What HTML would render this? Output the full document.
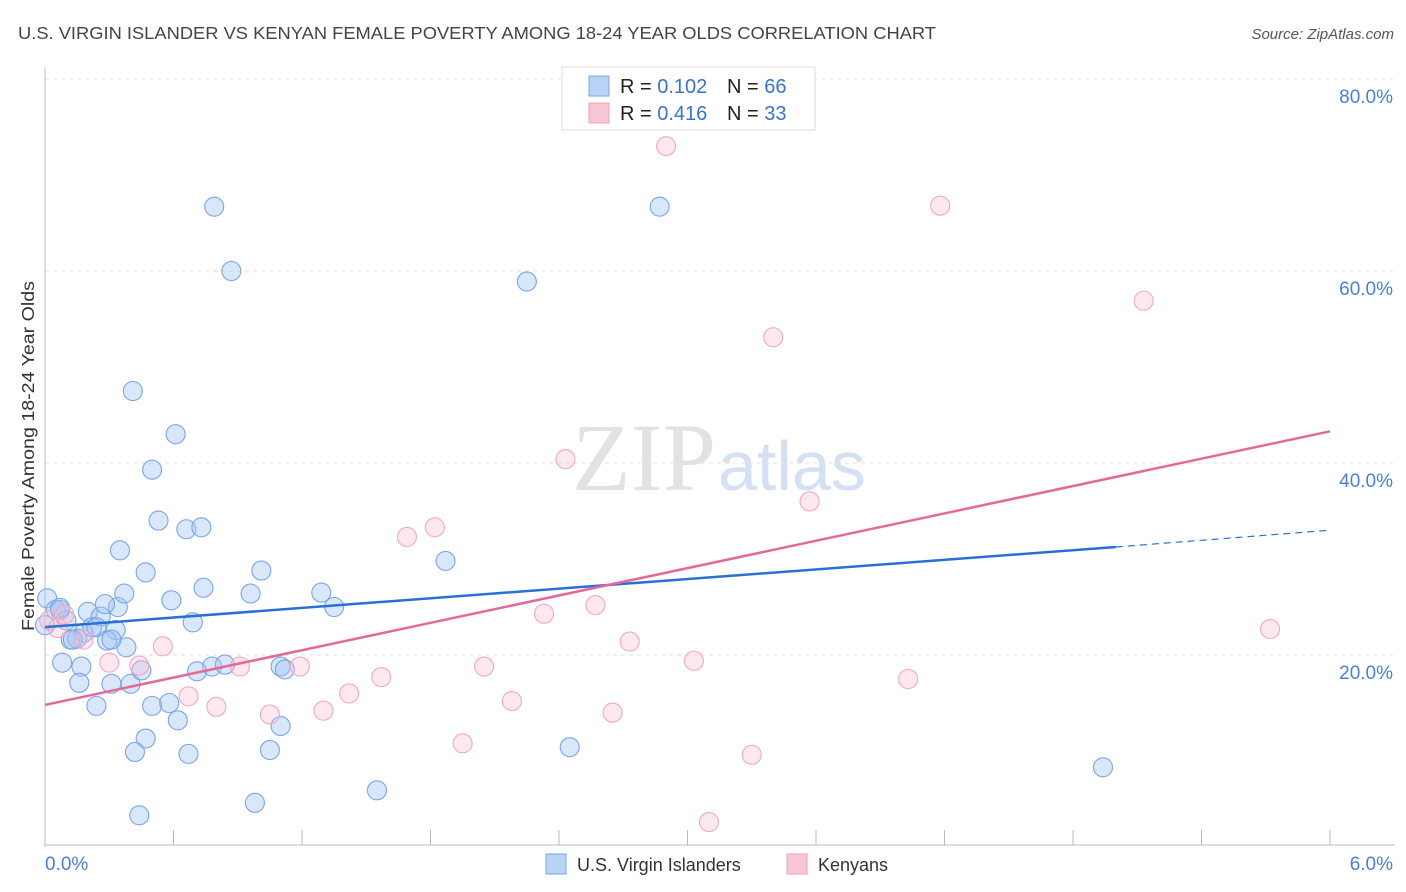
<!DOCTYPE html>
<html><head><meta charset="utf-8"><style>
body{margin:0;background:#fff;font-family:"Liberation Sans",sans-serif;}
svg{display:block}
</style></head><body>
<svg id="chart" width="1406" height="892" viewBox="0 0 1406 892" xmlns="http://www.w3.org/2000/svg">
<text x="18" y="39" font-size="17.5" fill="#444" font-family="Liberation Sans" textLength="918" lengthAdjust="spacingAndGlyphs">U.S. VIRGIN ISLANDER VS KENYAN FEMALE POVERTY AMONG 18-24 YEAR OLDS CORRELATION CHART</text>
<text x="1394" y="39" font-size="15" fill="#555" font-style="italic" text-anchor="end">Source: ZipAtlas.com</text>
<text x="716" y="490" font-size="96" fill="#e2e2e2" text-anchor="end" font-family="Liberation Serif">ZIP</text>
<text x="718" y="490" font-size="70" fill="#d4e1f3">atlas</text>
<g id="grid"></g>
<g id="axes"></g>
<g id="points"></g>
<g id="lines"></g>
<text transform="translate(34,456) rotate(-90)" font-size="17.5" fill="#333" text-anchor="middle" textLength="350" lengthAdjust="spacingAndGlyphs">Female Poverty Among 18-24 Year Olds</text>
<g>
<rect x="562" y="67" width="253" height="63" fill="#fff" stroke="#ddd"/>
<rect x="589" y="76" width="20" height="20" fill="#b9d3f5" stroke="#7aa7e6"/>
<rect x="589" y="103" width="20" height="20" fill="#f9c6d5" stroke="#f0a0b8"/>
<text x="620" y="93" font-size="20" fill="#222">R = <tspan fill="#3a72d0">0.102</tspan></text>
<text x="727" y="93" font-size="20" fill="#222">N = <tspan fill="#3a72d0">66</tspan></text>
<text x="620" y="120" font-size="20" fill="#222">R = <tspan fill="#3a72d0">0.416</tspan></text>
<text x="727" y="120" font-size="20" fill="#222">N = <tspan fill="#3a72d0">33</tspan></text>
</g>
<g>
<rect x="546" y="854" width="20" height="20" fill="#b9d3f5" stroke="#7aa7e6"/>
<text x="577" y="871" font-size="18" fill="#333">U.S. Virgin Islanders</text>
<rect x="787" y="854" width="20" height="20" fill="#f9c6d5" stroke="#f0a0b8"/>
<text x="818" y="871" font-size="18" fill="#333">Kenyans</text>
</g>
</svg>
<script>
const blueX=[.01,.05,.07,.10,.20,.26,.34,.28,.33,.18,.12,.15,.13,.22,.24,.29,.38,.08,.17,.16,.31,.40,.24,.45,.50,.62,.47,.42,.67,.44,.98,1.05,1.10,1.10,1.12,.78,.84,.71,.69,.59,.74,.96,1.01,.47,.37,.35,.66,.73,.53,.50,.61,.41,.79,.87,2.25,2.87,1.87,1.29,1.35,1.55,2.45,4.94,.58,.00,.07,.31];
const blueY=[25.9,24.7,24.7,23.6,24.5,24.0,25.0,25.3,22.6,22.3,21.6,21.7,21.6,22.9,22.9,21.5,20.8,19.2,18.8,17.1,17.0,17.0,14.7,18.4,14.7,13.2,11.3,9.9,9.7,3.3,4.6,10.1,12.6,18.8,18.5,18.8,19.0,18.3,23.4,25.7,27.0,26.4,28.8,28.6,26.4,30.9,33.1,33.3,34.0,39.3,43.0,47.5,66.7,60.0,58.9,66.7,29.8,26.5,25.0,5.9,10.4,8.3,15.0,23.1,24.9,21.6];
const pinkX=[.02,.06,.09,.18,.30,.44,.55,.67,.80,.91,1.05,1.19,1.30,1.42,1.57,1.69,1.82,1.95,2.05,2.18,2.33,2.43,2.57,2.65,2.73,2.90,3.03,3.10,3.30,3.40,3.57,4.03,4.18,5.13,5.72];
const pinkY=[23.6,22.8,24.2,21.6,19.2,18.9,20.9,15.7,14.6,18.8,13.8,18.8,14.2,16.0,17.7,32.3,33.3,10.8,18.8,15.2,24.3,40.4,25.2,14.0,21.4,73.0,19.4,2.6,9.6,53.1,36.0,17.5,66.8,56.9,22.7];
const yTicks=[20,40,60,80];
const yTickLabels=["20.0%","40.0%","60.0%","80.0%"];
const xTicks=[0,0.6,1.2,1.8,2.4,3.0,3.6,4.2,4.8,5.4,6.0];
const blueTrend=[[0,22.9],[5.0,31.25],[6.0,33.0]];
const pinkTrend=[[0,14.8],[6.0,43.3]];
const NS="http://www.w3.org/2000/svg";
const X=v=>45+v*(1285/6), Y=v=>847-v*9.6;
function mk(tag,attrs,parent){const e=document.createElementNS(NS,tag);for(const k in attrs)e.setAttribute(k,attrs[k]);document.getElementById(parent).appendChild(e);return e;}
yTicks.forEach((t,i)=>{
 const g=mk('line',{x1:45,x2:1393,y1:Y(t),y2:Y(t),stroke:'#e2e2e2','stroke-dasharray':'4,4'},'grid');
 
 
 const l=mk('text',{x:1393,y:Y(t)+24,'font-size':19,fill:'#4a7fd4','text-anchor':'end'},'grid');
 l.textContent=yTickLabels[i];
 
 
});
const ya=mk('line',{x1:45,x2:45,y1:68,y2:847,stroke:'#bbb'},'axes');


const xa=mk('line',{x1:45,x2:1395,y1:845,y2:845,stroke:'#bbb'},'axes');


xTicks.forEach(t=>{const k=mk('line',{x1:X(t),x2:X(t),y1:830,y2:845,stroke:'#bbb'},'axes');
 
 });
const x0=mk('text',{x:45,y:870,'font-size':19,fill:'#4a7fd4'},'axes');x0.textContent='0.0%';


const x1=mk('text',{x:1393,y:870,'font-size':19,fill:'#4a7fd4','text-anchor':'end'},'axes');x1.textContent='6.0%';


blueX.forEach((v,i)=>{const c=mk('circle',{cx:X(v),cy:Y(blueY[i]),r:9.5,fill:'rgba(160,196,242,0.4)',stroke:'#7aa5e6','stroke-width':1.1},'points');
 
 });
pinkX.forEach((v,i)=>{const c=mk('circle',{cx:X(v),cy:Y(pinkY[i]),r:9.5,fill:'rgba(248,190,208,0.35)',stroke:'#f2a8c0','stroke-width':1.1},'points');
 
 });
const b1=mk('line',{x1:X(blueTrend[0][0]),y1:Y(blueTrend[0][1]),x2:X(blueTrend[1][0]),y2:Y(blueTrend[1][1]),stroke:'#2a6fd6','stroke-width':2.5},'lines');


const b2=mk('line',{x1:X(blueTrend[1][0]),y1:Y(blueTrend[1][1]),x2:X(blueTrend[2][0]),y2:Y(blueTrend[2][1]),stroke:'#2a6fd6','stroke-width':1.2,'stroke-dasharray':'7,5'},'lines');


const p1=mk('line',{x1:X(pinkTrend[0][0]),y1:Y(pinkTrend[0][1]),x2:X(pinkTrend[1][0]),y2:Y(pinkTrend[1][1]),stroke:'#e4699a','stroke-width':2.5},'lines');


</script>
</body></html>
